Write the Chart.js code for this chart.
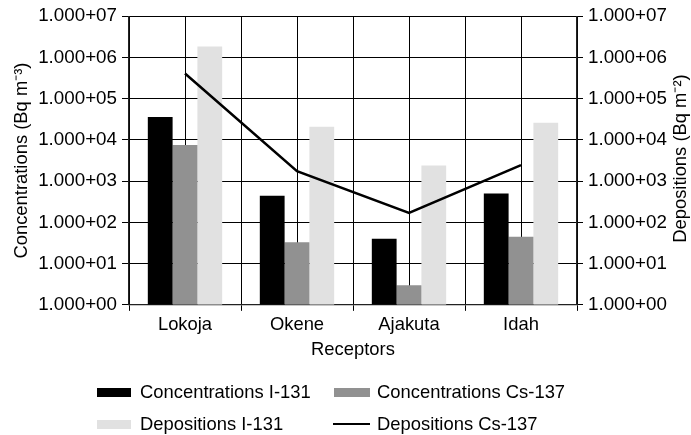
<!DOCTYPE html>
<html>
<head>
<meta charset="utf-8">
<script src="https://cdn.jsdelivr.net/npm/chart.js@4.4.0/dist/chart.umd.min.js"></script>
<style>
  html, body { margin: 0; padding: 0; background: #fff; }
  #wrap { position: relative; width: 691px; height: 435px; font-family: "Liberation Sans", Arial, sans-serif; }
  canvas { position: absolute; left: 0; top: 0; }
  .lg { position: absolute; font-size: 18.4px; line-height: 20px; height: 20px; color: #000; white-space: nowrap; }
  .sw { position: absolute; }
</style>
</head>
<body>
<div id="wrap">
  <canvas id="c" width="691" height="435"></canvas>
  <div class="sw" style="left:97px;top:388px;width:34px;height:9px;background:#000;"></div>
  <div class="lg" style="left:140px;top:382px;">Concentrations I-131</div>
  <div class="sw" style="left:334px;top:388px;width:36px;height:9px;background:#919191;"></div>
  <div class="lg" style="left:377px;top:382px;">Concentrations Cs-137</div>
  <div class="sw" style="left:97px;top:420px;width:34px;height:9px;background:#e1e1e1;"></div>
  <div class="lg" style="left:140px;top:414px;">Depositions I-131</div>
  <div class="sw" style="left:333px;top:423px;width:37px;height:2px;background:#000;"></div>
  <div class="lg" style="left:377px;top:414px;">Depositions Cs-137</div>
</div>
<script>
const categories = ['Lokoja', 'Okene', 'Ajakuta', 'Idah'];
const concI131 = [36000, 440, 40, 500];
const concCs137 = [7500, 33, 3.0, 45];
const depI131 = [1850000, 21000, 2400, 26000];
const depCs137 = [410000, 1750, 170, 2450];
const tickValues = [1, 10, 100, 1000, 10000, 100000, 1000000, 10000000];

const FONT = { family: '"Liberation Sans", Arial, sans-serif', size: 18.4 };
const TICKFONT = { family: '"Liberation Sans", Arial, sans-serif', size: 18.8 };
const fmt = v => '1.000+' + String(Math.round(Math.log10(v))).padStart(2, '0');

const rightTitle = {
  id: 'rightTitle',
  afterDraw(chart) {
    const s = chart.scales.y2;
    const ctx = chart.ctx;
    ctx.save();
    ctx.translate(681, (s.top + s.bottom) / 2 - 2);
    ctx.rotate(-Math.PI / 2);
    ctx.fillStyle = '#000';
    ctx.font = '18.4px "Liberation Sans", Arial, sans-serif';
    ctx.textAlign = 'center';
    ctx.textBaseline = 'middle';
    ctx.fillText('Depositions (Bq m\u207B\u00B2)', 0, 0);
    ctx.restore();
  }
};

new Chart(document.getElementById('c'), {
  data: {
    labels: categories,
    datasets: [
      { type: 'line', label: 'Depositions Cs-137', data: depCs137, yAxisID: 'y2', borderColor: '#000', borderWidth: 2.5, pointRadius: 0, tension: 0, fill: false, order: 0 },
      { type: 'bar', label: 'Concentrations I-131', data: concI131, yAxisID: 'y', backgroundColor: '#000', borderWidth: 0, order: 1 },
      { type: 'bar', label: 'Concentrations Cs-137', data: concCs137, yAxisID: 'y', backgroundColor: '#919191', borderWidth: 0, order: 1 },
      { type: 'bar', label: 'Depositions I-131', data: depI131, yAxisID: 'y', backgroundColor: '#e1e1e1', borderWidth: 0, order: 1 }
    ]
  },
  options: {
    responsive: false,
    animation: false,
    layout: { padding: { top: 4, bottom: 74, left: 0, right: 0 } },
    datasets: { bar: { categoryPercentage: 0.664, barPercentage: 1.0 } },
    plugins: { legend: { display: false }, tooltip: { enabled: false } },
    scales: {
      x: {
        type: 'category', position: 'bottom', offset: true,
        grid: { offset: true, color: '#000', lineWidth: 1, tickLength: 6, drawTicks: true },
        border: { color: '#222', width: 1.3 },
        ticks: { color: '#000', font: FONT, padding: 3, maxRotation: 0 },
        title: { display: true, text: 'Receptors', color: '#000', font: FONT, padding: { top: 0, bottom: 0 } }
      },
      x2: {
        type: 'category', position: 'top', offset: true,
        grid: { offset: false, color: '#000', lineWidth: 1, drawTicks: false },
        border: { display: false },
        ticks: { display: false }
      },
      y: {
        type: 'logarithmic', position: 'left', min: 1, max: 10000000,
        afterBuildTicks: s => { s.ticks = tickValues.map(v => ({ value: v })); },
        afterFit: s => { s.width = 129; },
        grid: { color: '#000', lineWidth: 1, tickLength: 7 },
        border: { color: '#222', width: 1.3 },
        ticks: { color: '#000', font: TICKFONT, padding: 5, callback: fmt },
        title: { display: true, text: 'Concentrations (Bq m\u207B\u00B3)', color: '#000', font: FONT, padding: { top: 11, bottom: 0 } }
      },
      y2: {
        type: 'logarithmic', position: 'right', min: 1, max: 10000000,
        afterBuildTicks: s => { s.ticks = tickValues.map(v => ({ value: v })); },
        afterFit: s => { s.width = 114; },
        grid: { drawOnChartArea: false, color: '#000', tickLength: 6 },
        border: { color: '#222', width: 1.3 },
        ticks: { color: '#000', font: TICKFONT, padding: 5, callback: fmt }
      }
    }
  },
  plugins: [rightTitle]
});
</script>
</body>
</html>
